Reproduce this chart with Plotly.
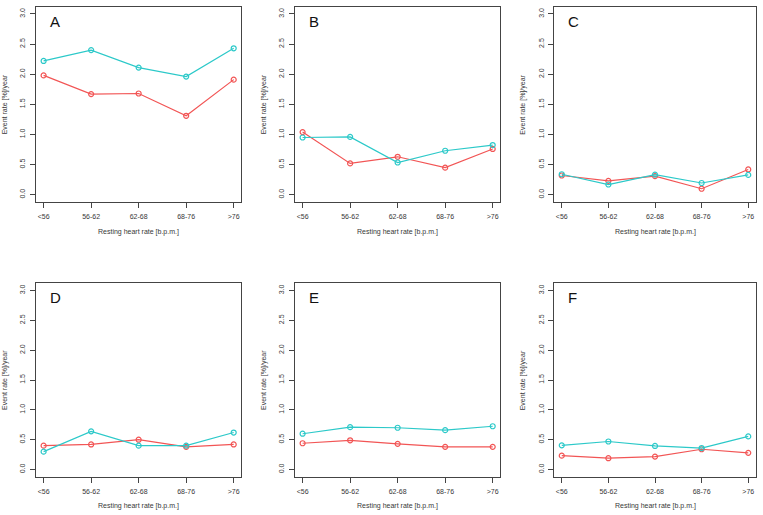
import plotly.graph_objects as go

categories = ["<56", "56-62", "62-68", "68-76", ">76"]
panel_labels = ["A", "B", "C", "D", "E", "F"]

cyan_A = [2.22, 2.40, 2.11, 1.96, 2.43]
red_A = [1.98, 1.67, 1.68, 1.31, 1.91]
cyan_B = [0.95, 0.96, 0.535, 0.73, 0.825]
red_B = [1.04, 0.52, 0.63, 0.45, 0.76]
cyan_C = [0.34, 0.17, 0.335, 0.195, 0.33]
red_C = [0.32, 0.23, 0.31, 0.10, 0.42]
cyan_D = [0.30, 0.64, 0.40, 0.40, 0.62]
red_D = [0.40, 0.42, 0.50, 0.38, 0.42]
cyan_E = [0.60, 0.71, 0.70, 0.66, 0.725]
red_E = [0.44, 0.49, 0.43, 0.38, 0.38]
cyan_F = [0.405, 0.47, 0.395, 0.36, 0.555]
red_F = [0.233, 0.19, 0.217, 0.34, 0.28]

y_ticks = [0.0, 0.5, 1.0, 1.5, 2.0, 2.5, 3.0]
y_tick_text = ["0.0", "0.5", "1.0", "1.5", "2.0", "2.5", "3.0"]

series = [(cyan_A, red_A), (cyan_B, red_B), (cyan_C, red_C),
          (cyan_D, red_D), (cyan_E, red_E), (cyan_F, red_F)]

W, H = 763, 515
col_px = [(36.0, 241.3), (295.0, 500.3), (554.3, 755.7)]
row_px = [(6.7, 202.0), (283.3, 476.7)]

CYAN = "#2CC9C9"
RED = "#F25555"
AX = "#444444"
TXT = "#383838"
FONT = "Liberation Sans, Arial, sans-serif"

fig = go.Figure()
x = [1, 2, 3, 4, 5]
annotations = []
for i, (cy, rd) in enumerate(series):
    r, c = divmod(i, 3)
    n = i + 1
    xa = "x" if n == 1 else f"x{n}"
    ya = "y" if n == 1 else f"y{n}"
    for vals, col in ((rd, RED), (cy, CYAN)):
        fig.add_trace(go.Scatter(
            x=x, y=vals, mode="lines+markers", xaxis=xa, yaxis=ya,
            line=dict(color=col, width=1.2),
            marker=dict(symbol="circle-open", size=5, color=col, line=dict(width=1.2)),
            showlegend=False, hoverinfo="skip"))
    x0, x1 = col_px[c]
    t, b = row_px[r]
    dom_x = [x0 / W, x1 / W]
    dom_y = [1 - b / H, 1 - t / H]
    axk = "xaxis" if n == 1 else f"xaxis{n}"
    ayk = "yaxis" if n == 1 else f"yaxis{n}"
    fig.layout[axk] = dict(
        domain=dom_x, range=[0.84, 5.16], tickvals=x, ticktext=categories,
        showgrid=False, zeroline=False, showline=True, mirror=True,
        linecolor=AX, linewidth=1, ticks="outside", ticklen=5, tickcolor=AX,
        tickfont=dict(size=7, color=TXT, family=FONT), anchor=ya,
        ticklabelstandoff=3, fixedrange=True)
    fig.layout[ayk] = dict(
        domain=dom_y, range=[-0.12, 3.12], tickvals=y_ticks, ticktext=y_tick_text,
        showgrid=False, zeroline=False, showline=True, mirror=True,
        linecolor=AX, linewidth=1, ticks="outside", ticklen=5, tickcolor=AX,
        tickangle=-90, tickfont=dict(size=7, color=TXT, family=FONT), anchor=xa,
        ticklabelstandoff=2, fixedrange=True)
    # panel letter
    annotations.append(dict(
        text=panel_labels[i], xref="paper", yref="paper",
        x=(x0 + 12) / W, y=1 - (t + 14.5) / H, xanchor="left", yanchor="middle",
        showarrow=False, font=dict(size=15, color="#111111", family=FONT)))
    # x title
    annotations.append(dict(
        text="Resting heart rate [b.p.m.]", xref="paper", yref="paper",
        x=(x0 + x1) / 2 / W, y=1 - (b + 29.7) / H, xanchor="center", yanchor="middle",
        showarrow=False, font=dict(size=7, color=TXT, family=FONT)))
    # y title
    annotations.append(dict(
        text="Event rate [%]/year", xref="paper", yref="paper",
        x=(x0 - 31) / W, y=1 - (t + b) / 2 / H, xanchor="center", yanchor="middle",
        textangle=-90, showarrow=False, font=dict(size=7, color=TXT, family=FONT)))

fig.update_layout(
    width=W, height=H, margin=dict(l=0, r=0, t=0, b=0),
    paper_bgcolor="white", plot_bgcolor="white",
    annotations=annotations, showlegend=False)

fig.write_html(
    "out.html",
    config={"displayModeBar": False, "staticPlot": True},
    post_script="document.body.style.margin='0';document.body.style.padding='0';document.body.style.overflow='hidden';",
)
